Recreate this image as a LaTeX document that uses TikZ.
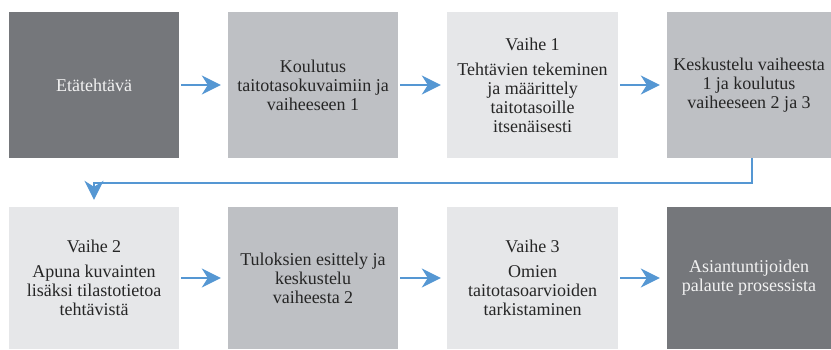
\documentclass[tikz,border=0pt]{standalone}
\usepackage{fontspec}
\setmainfont{Liberation Serif}
\usetikzlibrary{arrows.meta}
\definecolor{darkg}{HTML}{75777B}
\definecolor{midg}{HTML}{BEC0C4}
\definecolor{lightg}{HTML}{E6E7E9}
\definecolor{arrc}{HTML}{5597D3}
\definecolor{txt}{HTML}{262626}
\begin{document}
\begin{tikzpicture}[x=1pt,y=-1pt,
  boxbase/.style={rectangle, inner sep=0pt, align=center,
    font=\fontsize{18}{19}\selectfont},
  darkbox/.style={boxbase, fill=darkg, text=white!95!black},
  midbox/.style={boxbase, fill=midg, text=txt},
  lightbox/.style={boxbase, fill=lightg, text=txt},
  toprow/.style={minimum height=146pt},
  botrow/.style={minimum height=142pt},
  arr/.style={draw=arrc, line width=1.5pt,
    -{Stealth[length=19pt,width=19pt,inset=6pt]}}]
\useasboundingbox (0,0) rectangle (831,349);
% top row
\node[darkbox, toprow, minimum width=170pt] (b1) at (94,85) {Etätehtävä};
\node[midbox, toprow, minimum width=170pt] (b2) at (313,85) {Koulutus\\taitotasokuvaimiin ja\\vaiheeseen 1};
\node[lightbox, toprow, minimum width=171pt] (b3) at (532.5,85) {Vaihe 1\\[6pt]Tehtävien tekeminen\\ja määrittely\\taitotasoille\\itsenäisesti};
\node[midbox, toprow, minimum width=164pt] (b4) at (749,85) {Keskustelu vaiheesta\\1 ja koulutus\\vaiheeseen 2 ja 3};
% bottom row
\node[lightbox, botrow, minimum width=170pt] (c1) at (94,278) {Vaihe 2\\[6pt]Apuna kuvainten\\lisäksi tilastotietoa\\tehtävistä};
\node[midbox, botrow, minimum width=170pt] (c2) at (313,278) {Tuloksien esittely ja\\keskustelu\\vaiheesta 2};
\node[lightbox, botrow, minimum width=171pt] (c3) at (532.5,278) {Vaihe 3\\[6pt]Omien\\taitotasoarvioiden\\tarkistaminen};
\node[darkbox, botrow, minimum width=164pt] (c4) at (749,278) {Asiantuntijoiden\\palaute prosessista};
% arrows
\draw[arr] ([xshift=2pt]b1.east) -- ([xshift=-7pt]b2.west);
\draw[arr] ([xshift=2pt]b2.east) -- ([xshift=-6pt]b3.west);
\draw[arr] ([xshift=2pt]b3.east) -- ([xshift=-7pt]b4.west);
\draw[arr] ([xshift=3pt]b4.south) -- ++(0,25) -| ([yshift=7pt]c1.north);
\draw[arr] ([xshift=2pt]c1.east) -- ([xshift=-7pt]c2.west);
\draw[arr] ([xshift=2pt]c2.east) -- ([xshift=-6pt]c3.west);
\draw[arr] ([xshift=2pt]c3.east) -- ([xshift=-7pt]c4.west);
\end{tikzpicture}
\end{document}
